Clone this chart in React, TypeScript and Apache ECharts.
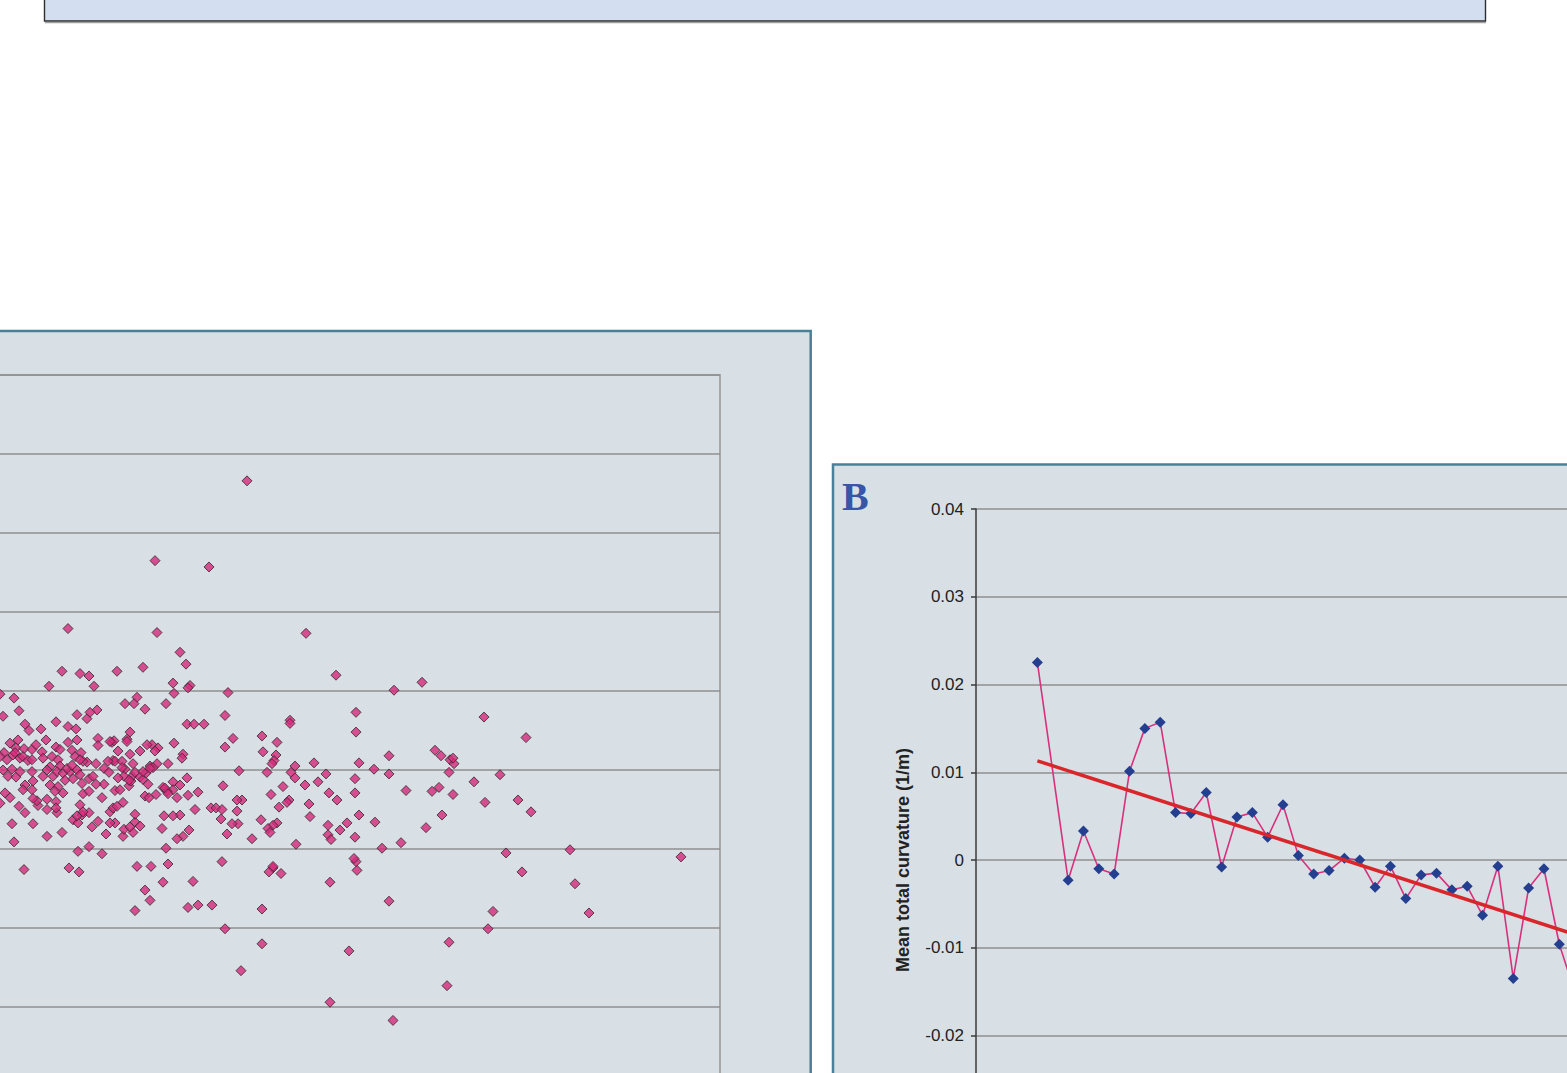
import React, { useEffect, useRef } from "react";
import * as echarts from "echarts";

// ---------- Panel A : scatter (x in arbitrary distance units, y curvature 1/m) ----------
const scatterX = [
  327, 235, 289, 148, 237, 386, 260, 266, 142, 160,
  169, 197, 223, 416, 129, 174, 253, 270, 268, 254,
  308, 474, 502, 80, 94, 217, 83, 99, 205, 214,
  225, 246, 157, 177, 167, 170, 136, 105, 109, 121,
  148, 156, 267, 274, 284, 305, 370, 370, 436, 436,
  313, 305, 342, 357, 343, 356, 354, 352, 394, 375,
  439, 469, 454, 469, 486, 406, 371, 375, 347, 319,
  435, 435, 398, 385, 363, 409, 417, 351, 369, 367,
  359, 389, 390, 439, 455, 427, 408, 420, 408, 411,
  435, 462, 481, 376, 332, 357, 353, 348, 350, 341,
  307, 318, 312, 317, 322, 317, 301, 303, 291, 296,
  302, 275, 278, 268, 267, 260, 253, 253, 257, 269,
  263, 257, 246, 260, 253, 244, 242, 248, 302, 217,
  231, 243, 273, 225, 230, 215, 268, 278, 292, 342,
  305, 342, 321, 429, 410, 473, 469, 410, 437, 436,
  434, 361, 353, 349, 353, 158, 169, 182, 104, 149,
  159, 94, 92, 113, 127, 142, 172, 178, 186, 203,
  204, 213, 210, 215, 220, 215, 195, 190, 153, 158,
  162, 169, 127, 137, 105, 99, 80, 90, 85, 118,
  117, 127, 136, 136, 143, 163, 169, 182, 184, 195,
  203, 190, 193, 197, 200, 209, 211, 212, 220, 223,
  228, 225, 229, 236, 243, 247, 215, 213, 220, 210,
  210, 207, 207, 178, 178, 192, 194, 198, 193, 195,
  202, 205, 202, 188, 184, 176, 167, 163, 169, 232,
  238, 235, 230, 237, 226, 233, 248, 254, 263, 262,
  90, 98, 96, 104, 112, 116, 126, 84, 80, 87,
  93, 95, 100, 103, 108, 112, 122, 123, 130, 132,
  136, 138, 140, 83, 88, 92, 96, 100, 105, 112,
  113, 123, 127, 133, 137, 138, 130, 143, 145, 150,
  153, 157, 160, 162, 147, 152, 148, 152, 157, 161,
  155, 160, 140, 190, 189, 204, 198, 227, 173, 176,
  209, 103, 112, 113, 135, 160, 157, 163, 223, 230,
  245, 248, 564, 606, 515, 521, 530, 534, 533, 529,
  580, 554, 512, 519, 533, 565, 598, 611, 522, 506,
  586, 650, 761, 602, 655, 573, 669, 568, 529, 527,
];

const scatterY = [
  0.0366, 0.0265, 0.0257, 0.0179, 0.0174, 0.0173, 0.0149, 0.0134, 0.0125, 0.0122,
  0.0119, 0.0125, 0.0130, 0.0120, 0.0106, 0.0106, 0.0110, 0.0107, 0.0104, 0.0097,
  0.0098, 0.0101, 0.0111, 0.0096, 0.0091, 0.0092, 0.0068, 0.0075, 0.0084, 0.0084,
  0.0077, 0.0084, 0.0070, 0.0076, 0.0065, 0.0073, 0.0061, 0.0058, 0.0050, 0.0052,
  0.0055, 0.0052, 0.0058, 0.0058, 0.0058, 0.0069, 0.0063, 0.0059, 0.0073, 0.0048,
  0.0040, 0.0029, 0.0043, 0.0035, 0.0023, 0.0019, 0.0012, 0.0008, 0.0009, 0.0005,
  0.0009, 0.0018, 0.0001, -0.0005, -0.0026, -0.0005, -0.0003, -0.0010, -0.0003, -0.0001,
  -0.0011, -0.0029, -0.0015, -0.0019, -0.0021, -0.0029, -0.0038, -0.0031, -0.0038, -0.0041,
  -0.0047, -0.0043, -0.0059, -0.0057, -0.0066, -0.0067, -0.0070, -0.0076, -0.0082, -0.0088,
  -0.0085, -0.0099, -0.0092, -0.0094, -0.0087, -0.0067, -0.0070, -0.0074, -0.0079, -0.0063,
  -0.0081, -0.0068, -0.0068, -0.0052, -0.0038, -0.0038, -0.0062, -0.0020, -0.0048, -0.0048,
  -0.0050, -0.0050, -0.0028, -0.0032, -0.0010, -0.0019, -0.0015, -0.0025, -0.0035, -0.0076,
  -0.0084, -0.0087, -0.0099, -0.0057, -0.0058, -0.0058, -0.0074, -0.0119, -0.0116, -0.0122,
  -0.0122, -0.0142, -0.0141, -0.0152, -0.0165, -0.0178, -0.0174, -0.0171, -0.0171, -0.0176,
  -0.0201, -0.0220, -0.0254, -0.0229, -0.0294, -0.0317, -0.0166, -0.0142, -0.0127, -0.0116,
  -0.0112, -0.0131, -0.0124, -0.0129, -0.0122, -0.0103, -0.0097, -0.0106, -0.0126, -0.0124,
  -0.0129, -0.0091, -0.0068, -0.0068, -0.0084, -0.0079, -0.0072, -0.0065, -0.0081, -0.0084,
  -0.0075, -0.0079, -0.0072, -0.0066, -0.0071, -0.0056, -0.0067, -0.0067, -0.0063, -0.0067,
  -0.0057, -0.0054, -0.0050, -0.0054, -0.0054, -0.0046, -0.0042, -0.0035, -0.0029, -0.0045,
  -0.0039, -0.0037, -0.0040, -0.0048, -0.0029, -0.0030, -0.0027, -0.0035, -0.0018, -0.0026,
  -0.0041, -0.0053, -0.0048, -0.0046, -0.0025, -0.0020, -0.0014, -0.0008, -0.0009, -0.0012,
  -0.0018, -0.0033, -0.0035, -0.0031, -0.0022, -0.0027, -0.0003, 0.0008, 0.0024, 0.0020,
  0.0048, 0.0039, 0.0036, 0.0040, 0.0031, 0.0035, 0.0037, 0.0024, 0.0012, 0.0011,
  0.0011, 0.0001, 0.0003, 0.0011, 0.0002, 0.0008, 0.0010, 0.0011, -0.0011, 0.0032,
  0.0028, 0.0024, 0.0005, 0.0008, -0.0004, 0.0003, 0.0008, 0.0034, 0.0020, 0.0015,
  0.0034, 0.0038, 0.0028, 0.0027, 0.0026, 0.0032, 0.0038, 0.0022, 0.0017, 0.0013,
  0.0019, 0.0022, 0.0015, 0.0017, 0.0012, 0.0013, 0.0023, 0.0015, 0.0004, 0.0017,
  0.0029, 0.0013, 0.0005, 0.0000, -0.0008, 0.0001, -0.0009, -0.0002, -0.0019, -0.0002,
  -0.0014, -0.0008, 0.0000, -0.0008, -0.0002, -0.0021, -0.0019, -0.0004, -0.0013, -0.0002,
  -0.0011, 0.0000, -0.0006, -0.0017, 0.0002, 0.0006, 0.0035, 0.0025, 0.0038, 0.0022,
  0.0017, 0.0013, 0.0026, 0.0036, -0.0003, -0.0008, -0.0010, 0.0032, -0.0008, -0.0018,
  -0.0013, -0.0025, -0.0025, -0.0036, -0.0027, -0.0044, -0.0058, -0.0053, -0.0002, 0.0002,
  -0.0023, -0.0030, 0.0067, 0.0041, 0.0025, 0.0018, 0.0013, 0.0008, 0.0015, -0.0003,
  -0.0006, -0.0015, -0.0027, -0.0022, -0.0031, -0.0041, -0.0038, -0.0053, -0.0057, -0.0073,
  -0.0105, -0.0101, -0.0110, -0.0129, -0.0144, -0.0179, -0.0181, -0.0201, -0.0218, -0.0273,
];

// ---------- Panel B : mean total curvature series ----------
const curvX = [
  0, 2, 3, 4, 5, 6, 7, 8, 9, 10,
  11, 12, 13, 14, 15, 16, 17, 18, 19, 20,
  21, 22, 23, 24, 25, 26, 27, 28, 29, 30,
  31, 32, 33, 34, 35,
];
const curvY = [
  0.0225, -0.0023, 0.0033, -0.0010, -0.0016, 0.0101, 0.0150, 0.0157, 0.0054, 0.0053,
  0.0077, -0.0008, 0.0049, 0.0054, 0.0026, 0.0063, 0.0005, -0.0016, -0.0012, 0.0002,
  0.0000, -0.0031, -0.0007, -0.0044, -0.0017, -0.0015, -0.0034, -0.0030, -0.0063, -0.0007,
  -0.0135, -0.0032, -0.0010, -0.0096, -0.0150,
];
const trendX = [0, 40];
const trendY = [0.0113, -0.0113];

const yTicksB = { min: -0.03, max: 0.04, interval: 0.01 };
const yTicksA = { min: -0.05, max: 0.05, interval: 0.01 };

const AXIS_TITLE_B = "Mean total curvature (1/m)";
const PANEL_LABEL_B = "B";

// container is shifted 200px to the left of the page
const OX = 200;

export default function App() {
  const ref = useRef<HTMLDivElement>(null);

  useEffect(() => {
    if (!ref.current) return;
    const chart = echarts.init(ref.current, null, { renderer: "svg" });

    const panelBg = "#d8e0e5";
    const panelBorder = "#4a8199";
    const gridColor = "#8f8f8f";

    const fmt = (v: number) => {
      const r = Math.round(v * 100) / 100;
      return r === 0 ? "0" : r.toFixed(2);
    };

    chart.setOption({
      animation: false,
      grid: [
        {
          left: OX - 80,
          top: 375,
          width: 800,
          height: 790,
          show: true,
          backgroundColor: "transparent",
          borderColor: "#a7a7a7",
          borderWidth: 2,
        },
        {
          left: OX + 976,
          top: 509,
          width: 982.4,
          height: 614.25,
          show: false,
        },
      ],
      xAxis: [
        { gridIndex: 0, type: "value", min: 0, max: 800, show: false },
        { gridIndex: 1, type: "value", min: -4, max: 60, show: false },
      ],
      yAxis: [
        {
          gridIndex: 0,
          type: "value",
          min: yTicksA.min,
          max: yTicksA.max,
          interval: yTicksA.interval,
          axisLine: { show: false },
          axisTick: { show: false },
          axisLabel: { show: false },
          splitLine: { show: true, lineStyle: { color: gridColor, width: 1.5 } },
        },
        {
          gridIndex: 1,
          type: "value",
          min: yTicksB.min,
          max: yTicksB.max,
          interval: yTicksB.interval,
          axisLine: { show: true, onZero: false, lineStyle: { color: "#3a3a3a", width: 1.5 } },
          axisTick: { show: true, length: 5, lineStyle: { color: "#3a3a3a", width: 1.5 } },
          axisLabel: {
            show: true,
            showMinLabel: false,
            fontSize: 17,
            color: "#222222",
            fontFamily: "Liberation Sans, Arial, sans-serif",
            margin: 12,
            formatter: fmt,
          },
          splitLine: { show: true, lineStyle: { color: gridColor, width: 1.5 } },
        },
      ],
      series: [
        {
          type: "scatter",
          xAxisIndex: 0,
          yAxisIndex: 0,
          symbol: "diamond",
          symbolSize: 10,
          itemStyle: { color: "#d42a7a", borderColor: "#33252d", borderWidth: 1 },
          data: scatterX.map((x, i) => [x, scatterY[i]]),
        },
        {
          type: "line",
          xAxisIndex: 1,
          yAxisIndex: 1,
          symbol: "diamond",
          symbolSize: 11,
          showAllSymbol: true,
          lineStyle: { color: "#d9307e", width: 1.6 },
          itemStyle: { color: "#243f8f" },
          data: curvX.map((x, i) => [x, curvY[i]]),
          z: 3,
        },
        {
          type: "line",
          xAxisIndex: 1,
          yAxisIndex: 1,
          symbol: "none",
          lineStyle: { color: "#d9262a", width: 3.5 },
          data: trendX.map((x, i) => [x, trendY[i]]),
          z: 4,
        },
      ],
      graphic: [
        {
          type: "rect",
          z: -10,
          shape: { x: OX + 44.5, y: -3, width: 1441, height: 24 },
          style: { fill: "#d3dff0", stroke: "#2e2e2e", lineWidth: 1.4 },
        },
        {
          type: "line",
          z: -10,
          shape: { x1: OX + 45, y1: 22.6, x2: OX + 1486, y2: 22.6 },
          style: { stroke: "#a0a0a0", lineWidth: 1.2 },
        },
        {
          type: "rect",
          z: -10,
          shape: { x: -20, y: 331, width: OX + 810.7 + 20, height: 1200 },
          style: { fill: panelBg, stroke: panelBorder, lineWidth: 2.5 },
        },
        {
          type: "rect",
          z: -10,
          shape: { x: OX + 833, y: 464.5, width: 1500, height: 1000 },
          style: { fill: panelBg, stroke: panelBorder, lineWidth: 2.5 },
        },
        {
          type: "text",
          z: 10,
          x: OX + 842,
          y: 496,
          style: {
            text: PANEL_LABEL_B,
            font: 'bold 40px "Liberation Serif", "Times New Roman", serif',
            fill: "#3a55a5",
            textAlign: "left",
            textVerticalAlign: "middle",
          },
        },
        {
          type: "text",
          z: 10,
          x: OX + 903,
          y: 860,
          rotation: Math.PI / 2,
          style: {
            text: AXIS_TITLE_B,
            font: 'bold 18px "Liberation Sans", Arial, sans-serif',
            fill: "#222222",
            textAlign: "center",
            textVerticalAlign: "middle",
          },
        },
      ],
    });

    return () => {
      chart.dispose();
    };
  }, []);

  return (
    <div
      ref={ref}
      style={{
        position: "fixed",
        left: -OX,
        top: 0,
        width: 2400,
        height: 1300,
        background: "#ffffff",
      }}
    />
  );
}
